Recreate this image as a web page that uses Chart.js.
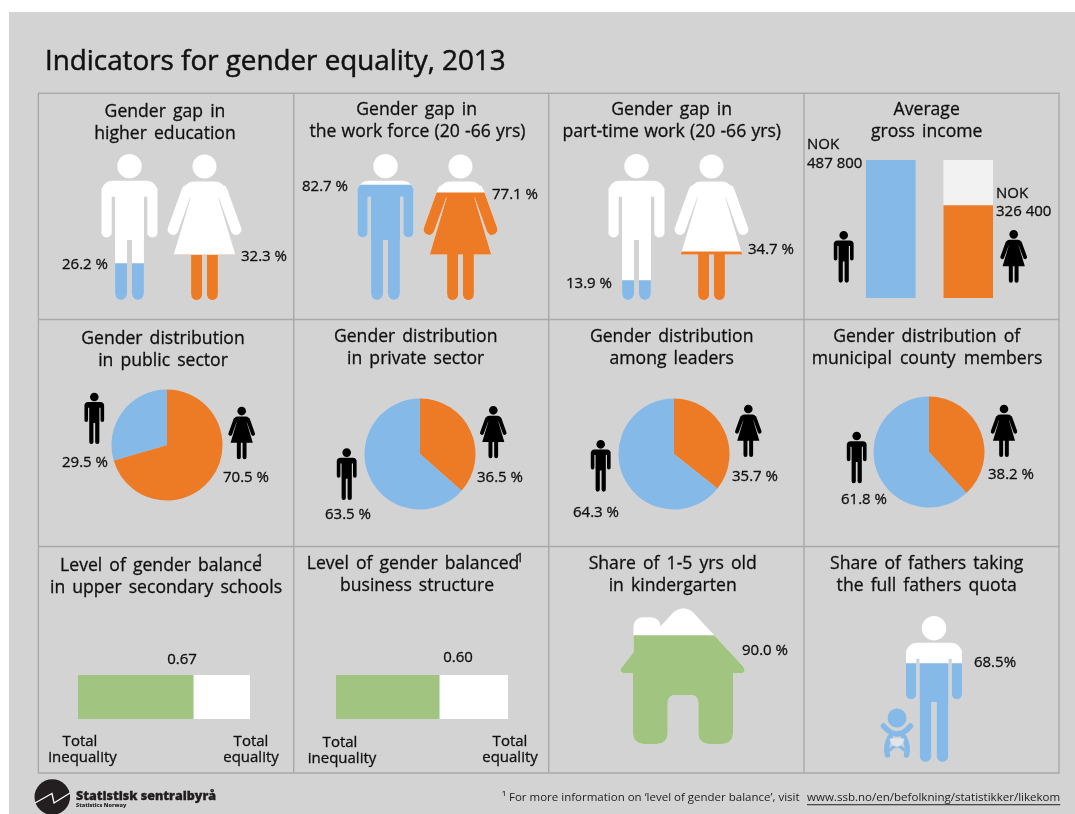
<!DOCTYPE html>
<html>
<head>
<meta charset="utf-8">
<title>Indicators for gender equality, 2013</title>
<script src="https://cdn.jsdelivr.net/npm/chart.js@4"></script>
<style>
  html, body { margin: 0; padding: 0; background: #fff; }
  #page { position: relative; width: 1075px; height: 814px; overflow: hidden; font-family: "Open Sans", sans-serif; color: #111; }
  #sheet { position: absolute; left: 9px; top: 12px; right: 0; bottom: 0; background: #d3d3d3; }
  canvas { position: absolute; }
  .t { position: absolute; transform: translate(-50%, -50%); white-space: nowrap; line-height: 1; -webkit-text-stroke: 0.3px #111; }
</style>
</head>
<body>
<div id="page"><div id="sheet"></div><canvas id="decor" width="1075" height="814" style="left:0;top:0"></canvas></div>
<script>
const people = ['Men', 'Women'];

// percent of men, women
const higherEducation = [26.2, 32.3];
const workForce = [82.7, 77.1];
const partTime = [13.9, 34.7];

// NOK per year
const grossIncome = [487800, 326400];
const incomeBacking = [null, 487800];

// women, men
const publicSector = [70.5, 29.5];
const privateSector = [36.5, 63.5];
const leaders = [35.7, 64.3];
const countyMembers = [38.2, 61.8];

const schoolBalance = [0.67];
const businessBalance = [0.60];
const balanceScale = [1];

const kindergarten = [90.0];
const fathersQuota = [68.5];

const BLUE = '#85b9e8', ORANGE = '#ed7a25', GREEN = '#a1c581';
const page = document.getElementById('page');

// --- silhouettes, all subpaths clockwise so clip() gives their union ---
function capsule(p, x1, y1, x2, y2, r) {
  const a = Math.atan2(y2 - y1, x2 - x1);
  p.moveTo(x2 + r * Math.cos(a - Math.PI / 2), y2 + r * Math.sin(a - Math.PI / 2));
  p.arc(x2, y2, r, a - Math.PI / 2, a + Math.PI / 2);
  p.arc(x1, y1, r, a + Math.PI / 2, a + 3 * Math.PI / 2);
  p.closePath();
}
function circle(p, x, y, r) {
  p.moveTo(x + r, y);
  p.arc(x, y, r, 0, Math.PI * 2);
  p.closePath();
}

function manShape() {
  const p = new Path2D();
  circle(p, 0, 12.2, 12.2);
  p.roundRect(-28, 26.7, 56, 16, [11, 11, 0, 0]);
  p.roundRect(-28, 34, 10.2, 49.5, [0, 0, 5, 5]);
  p.roundRect(17.8, 34, 10.2, 49.5, [0, 0, 5, 5]);
  p.rect(-14.5, 34, 29, 52);
  p.roundRect(-14.4, 80, 11.9, 66, [0, 0, 5.9, 5.9]);
  p.roundRect(2.5, 80, 11.9, 66, [0, 0, 5.9, 5.9]);
  return { path: p, h: 146 };
}

function womanShape() {
  const p = new Path2D();
  circle(p, 0, 12, 12);
  p.roundRect(-21, 27, 42, 16, [10, 10, 0, 0]);
  capsule(p, -17.5, 36, -31.5, 75, 5.4);
  capsule(p, 17.5, 36, 31.5, 75, 5.4);
  p.moveTo(-9, 27);
  p.lineTo(9, 27);
  p.lineTo(30.7, 100);
  p.lineTo(-30.7, 100);
  p.closePath();
  p.roundRect(-13.4, 95, 11, 50.5, [0, 0, 5.5, 5.5]);
  p.roundRect(2.4, 95, 11, 50.5, [0, 0, 5.5, 5.5]);
  return { path: p, h: 145.5 };
}

function houseShape() {
  const p = new Path2D();
  p.roundRect(-49.5, 9, 27, 40, [9, 9, 0, 0]);
  p.moveTo(-62, 60);
  p.lineTo(-49.5, 44);
  p.lineTo(-22.7, 18.3);
  p.lineTo(-9, 3.5);
  p.quadraticCurveTo(0, -3.5, 9, 3);
  p.lineTo(60, 58);
  p.quadraticCurveTo(64.5, 65, 57, 65);
  p.lineTo(-57, 65);
  p.quadraticCurveTo(-64.5, 65, -62, 60);
  p.closePath();
  p.moveTo(-50, 60);
  p.lineTo(50, 60);
  p.lineTo(50, 100);
  p.lineTo(15.3, 100);
  p.lineTo(15.3, 95);
  p.quadraticCurveTo(15.3, 86.7, 7, 86.7);
  p.lineTo(-7, 86.7);
  p.quadraticCurveTo(-15.3, 86.7, -15.3, 95);
  p.lineTo(-15.3, 100);
  p.lineTo(-50, 100);
  p.closePath();
  p.roundRect(-50, 90, 34.7, 45.7, [0, 0, 10, 10]);
  p.roundRect(15.3, 90, 34.7, 45.7, [0, 0, 10, 10]);
  return { path: p, h: 135.7 };
}

const MAN = manShape(), WOMAN = womanShape(), HOUSE = houseShape();

// --- plugin: white silhouettes behind, each dataset's bar clipped to its figure ---
const silhouette = {
  id: 'silhouette',
  beforeDatasetsDraw(chart, args, opts) {
    const ctx = chart.ctx;
    opts.shapes.forEach((shape, i) => {
      const bar = chart.getDatasetMeta(i).data[i];
      ctx.save();
      ctx.translate(bar.x, chart.chartArea.bottom - shape.h);
      ctx.fillStyle = '#fff';
      ctx.fill(shape.path);
      ctx.restore();
    });
  },
  beforeDatasetDraw(chart, args, opts) {
    const ctx = chart.ctx, i = args.index, shape = opts.shapes[i];
    const bar = args.meta.data[i];
    ctx.save();
    const m = ctx.getTransform();
    ctx.translate(bar.x, chart.chartArea.bottom - shape.h);
    ctx.clip(shape.path);
    ctx.setTransform(m);
  },
  afterDatasetDraw(chart) {
    chart.ctx.restore();
  }
};

function mount(left, top, w, h) {
  const c = document.createElement('canvas');
  c.width = w;
  c.height = h;
  c.style.left = left + 'px';
  c.style.top = top + 'px';
  page.appendChild(c);
  return c;
}

const quiet = { legend: { display: false }, tooltip: { enabled: false } };

function pictogramChart(canvas, labels, values, colors, shapes, yMax) {
  return new Chart(canvas, {
    type: 'bar',
    data: {
      labels: labels,
      datasets: values.map((v, i) => ({
        label: labels[i],
        data: labels.map((_, j) => (j === i ? v : null)),
        backgroundColor: colors[i],
        barThickness: 150
      }))
    },
    options: {
      responsive: false,
      animation: false,
      events: [],
      layout: { padding: 0 },
      scales: {
        x: { display: false, stacked: true },
        y: { display: false, min: 0, max: yMax }
      },
      plugins: { ...quiet, silhouette: { shapes: shapes } }
    },
    plugins: [silhouette]
  });
}

function pieChart(values, cx, cy) {
  return new Chart(mount(cx - 60, cy - 60, 120, 120), {
    type: 'pie',
    data: {
      labels: ['Women', 'Men'],
      datasets: [{ data: values, backgroundColor: [ORANGE, BLUE], borderWidth: 0 }]
    },
    options: { responsive: false, animation: false, events: [], radius: 55.5, layout: { padding: 0 }, plugins: quiet }
  });
}

function balanceChart(values, left) {
  return new Chart(mount(left, 675, 172, 44), {
    type: 'bar',
    data: {
      labels: ['Balance'],
      datasets: [
        { data: values, backgroundColor: GREEN, grouped: false, barPercentage: 1, categoryPercentage: 1 },
        { data: balanceScale, backgroundColor: '#fff', grouped: false, barPercentage: 1, categoryPercentage: 1 }
      ]
    },
    options: {
      indexAxis: 'y',
      responsive: false,
      animation: false,
      events: [],
      layout: { padding: 0 },
      scales: { x: { display: false, min: 0, max: 1 }, y: { display: false } },
      plugins: quiet
    }
  });
}

// gender gap figures
pictogramChart(mount(92, 153.5, 150, 146), people, higherEducation, [BLUE, ORANGE], [MAN, WOMAN], 105);
pictogramChart(mount(347.5, 153.5, 150, 146), people, workForce, [BLUE, ORANGE], [MAN, WOMAN], 105);
pictogramChart(mount(599, 153.5, 150, 146), people, partTime, [BLUE, ORANGE], [MAN, WOMAN], 105);

// income bars, women's bar sits on a pale bar at the men's level
new Chart(mount(851.75, 160, 155, 138), {
  type: 'bar',
  data: {
    labels: people,
    datasets: [
      { data: grossIncome, backgroundColor: [BLUE, ORANGE], grouped: false, barThickness: 49 },
      { data: incomeBacking, backgroundColor: '#f2f2f2', grouped: false, barThickness: 49 }
    ]
  },
  options: {
    responsive: false,
    animation: false,
    events: [],
    layout: { padding: 0 },
    scales: { x: { display: false }, y: { display: false, min: 0, max: 487800 } },
    plugins: quiet
  }
});

pieChart(publicSector, 167, 445);
pieChart(privateSector, 420, 454);
pieChart(leaders, 674, 454.3);
pieChart(countyMembers, 929.3, 452);

balanceChart(schoolBalance, 78);
balanceChart(businessBalance, 335.5);

pictogramChart(mount(607.7, 608.3, 150, 136), ['Kindergarten'], kindergarten, [GREEN], [HOUSE], 113);
pictogramChart(mount(859, 614, 150, 148), ['Fathers'], fathersQuota, [BLUE], [MAN], 103);

// --- panel grid, small black figures, baby and logo ---
const d = document.getElementById('decor').getContext('2d');
d.strokeStyle = '#a9a9a9';
d.lineWidth = 1.4;
[38.4, 293.7, 548.7, 804, 1059].forEach(x => { d.beginPath(); d.moveTo(x, 93); d.lineTo(x, 773); d.stroke(); });
[93.3, 319.5, 546.5, 773].forEach(y => { d.beginPath(); d.moveTo(38, y); d.lineTo(1059.5, y); d.stroke(); });

function smallFigure(shape, cx, top, bottom) {
  const s = (bottom - top) / shape.h;
  d.save();
  d.translate(cx, top);
  d.scale(s, s);
  d.fillStyle = '#000';
  d.fill(shape.path);
  d.restore();
}
smallFigure(MAN, 843.7, 231, 282.7);
smallFigure(WOMAN, 1013.7, 230, 282.7);
smallFigure(MAN, 94.3, 392.7, 444);
smallFigure(WOMAN, 241.7, 406.7, 459.3);
smallFigure(MAN, 346.7, 448.3, 500);
smallFigure(WOMAN, 493.3, 406, 458.3);
smallFigure(MAN, 600.7, 440, 491.7);
smallFigure(WOMAN, 748.3, 404.7, 457);
smallFigure(MAN, 856.7, 431.7, 483.3);
smallFigure(WOMAN, 1004, 404.7, 457);

// baby next to the father
d.fillStyle = BLUE;
d.strokeStyle = BLUE;
d.lineCap = 'round';
d.beginPath(); d.arc(897, 718, 9.5, 0, Math.PI * 2); d.fill();
d.lineWidth = 5.5;
d.beginPath(); d.moveTo(883.5, 726); d.quadraticCurveTo(897, 742, 910.5, 726); d.stroke();
d.beginPath(); d.moveTo(890, 737); d.quadraticCurveTo(885, 747, 887.5, 755); d.stroke();
d.beginPath(); d.moveTo(904, 737); d.quadraticCurveTo(909, 747, 906.5, 755); d.stroke();
d.lineWidth = 3;
d.beginPath(); d.moveTo(890, 750); d.quadraticCurveTo(897, 742, 904, 750); d.stroke();
d.fillStyle = '#dfe5ea';
d.beginPath(); d.moveTo(889.5, 738.5); d.lineTo(904.5, 738.5); d.quadraticCurveTo(903, 746, 897, 747); d.quadraticCurveTo(891, 746, 889.5, 738.5); d.fill();

// logo
d.fillStyle = '#231f20';
d.beginPath(); d.arc(52.3, 797, 17.8, 0, Math.PI * 2); d.fill();
d.strokeStyle = '#fff';
d.lineWidth = 1.3;
d.lineCap = 'butt';
d.beginPath(); d.moveTo(35, 803); d.lineTo(52, 793.5); d.lineTo(54, 803); d.lineTo(70, 793); d.stroke();

// --- text ---
function text(str, x, y, size, weight, align, extra) {
  const el = document.createElement('div');
  el.className = 't';
  el.textContent = str;
  el.style.left = x + 'px';
  el.style.top = y + 'px';
  el.style.fontSize = size + 'px';
  el.style.fontWeight = weight || 400;
  if (align === 'left') el.style.transform = 'translate(0, -50%)';
  if (extra) Object.assign(el.style, extra);
  page.appendChild(el);
  return el;
}
const pct = v => v.toFixed(1) + ' %';
const nok = v => String(v).slice(0, 3) + ' ' + String(v).slice(3);
const LABEL = 15;

text('Indicators for gender equality, 2013', 45, 59.5, 27.8, 400, 'left', { WebkitTextStroke: '0.5px #111' });

const titles = [
  ['Gender gap in', 165, 110.7], ['higher education', 165, 132.7],
  ['Gender gap in', 416.7, 108.7], ['the work force (20 -66 yrs)', 417.5, 130.7, 0.6],
  ['Gender gap in', 671.7, 108.7], ['part-time work (20 -66 yrs)', 671.7, 130.7, 0.6],
  ['Average', 926.7, 108.7], ['gross income', 926.7, 130.7],
  ['Gender distribution', 163, 337.7], ['in public sector', 163, 359.7],
  ['Gender distribution', 415.7, 335.7], ['in private sector', 415.7, 357.7],
  ['Gender distribution', 671.7, 335.7], ['among leaders', 671.7, 357.7],
  ['Gender distribution of', 926.7, 335.7], ['municipal county members', 927, 357.7, 3.5],
  ['Level of gender balance', 161, 564.7], ['in upper secondary schools', 166, 586.7],
  ['Level of gender balanced', 413, 562.7], ['business structure', 417, 584.7],
  ['Share of 1-5 yrs old', 672.7, 562.7], ['in kindergarten', 672.7, 584.7],
  ['Share of fathers taking', 926.7, 562.7], ['the full fathers quota', 926.7, 584.7]
];
titles.forEach(t => text(t[0], t[1], t[2], 17.6, 400, null, { wordSpacing: (t[3] === undefined ? 2.5 : t[3]) + 'px' }));
text('1', 260, 559, 12);
text('1', 520, 558, 12);

text(pct(higherEducation[0]), 85, 263, LABEL);
text(pct(higherEducation[1]), 264, 255, LABEL);
text(pct(workForce[0]), 325, 185, LABEL);
text(pct(workForce[1]), 515, 193, LABEL);
text(pct(partTime[0]), 589, 282, LABEL);
text(pct(partTime[1]), 771, 248, LABEL);

text('NOK', 807, 142.5, LABEL, 400, 'left');
text(nok(grossIncome[0]), 807, 161.5, LABEL, 400, 'left');
text('NOK', 996, 191.5, LABEL, 400, 'left');
text(nok(grossIncome[1]), 996, 209.5, LABEL, 400, 'left');

text(pct(publicSector[1]), 85, 461, LABEL);
text(pct(publicSector[0]), 246, 476, LABEL);
text(pct(privateSector[1]), 348, 513, LABEL);
text(pct(privateSector[0]), 500, 476, LABEL);
text(pct(leaders[1]), 596, 511, LABEL);
text(pct(leaders[0]), 755, 475, LABEL);
text(pct(countyMembers[1]), 864, 498, LABEL);
text(pct(countyMembers[0]), 1011, 473, LABEL);

text(schoolBalance[0].toFixed(2), 182, 658, LABEL);
text(businessBalance[0].toFixed(2), 458, 656, LABEL);
text('Total', 80, 739.5, LABEL);
text('inequality', 82.5, 755.5, LABEL);
text('Total', 251, 739.5, LABEL);
text('equality', 251, 755.5, LABEL);
text('Total', 340, 740.5, LABEL);
text('inequality', 342, 756.5, LABEL);
text('Total', 510, 739.5, LABEL);
text('equality', 510, 755.5, LABEL);

text(pct(kindergarten[0]), 765, 649, LABEL);
text(fathersQuota[0].toFixed(1) + '%', 995, 661, LABEL);

text('Statistisk sentralbyrå', 76, 796, 12.5, 800, 'left', { color: '#231f20' });
text('Statistics Norway', 76, 806, 5.5, 800, 'left', { color: '#231f20', WebkitTextStroke: '0' });
const plain = { WebkitTextStroke: '0', color: '#222' };
text('¹ For more information on ‘level of gender balance’, visit', 502, 797, 11.5, 400, 'left', plain);
text('www.ssb.no/en/befolkning/statistikker/likekom', 807, 797, 11.55, 400, 'left', { ...plain, textDecoration: 'underline', textUnderlineOffset: '3px' });
</script>
</body>
</html>
